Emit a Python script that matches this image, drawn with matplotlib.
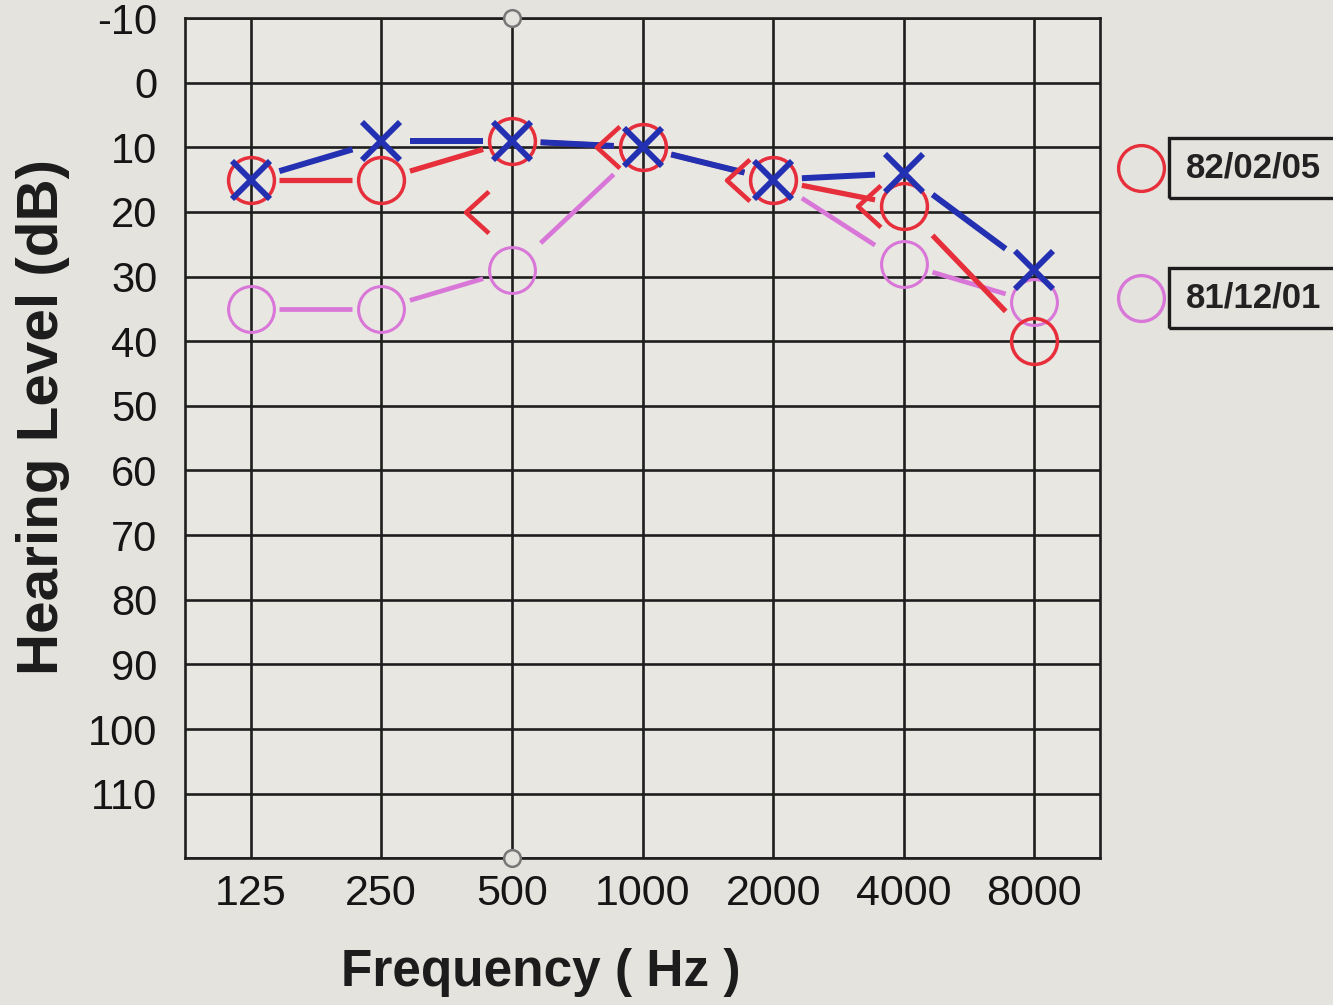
import matplotlib
matplotlib.use("Agg")
import matplotlib.pyplot as plt
import matplotlib.transforms as mtransforms
from matplotlib.path import Path
from matplotlib.patches import Rectangle
import numpy as np

# audiogram values (dB HL)
freqs = ["125", "250", "500", "1000", "2000", "4000", "8000"]
left_air = [15, 9, 9, 10, 15, 14, 29]        # blue X
right_new = [15, 15, 9, 10, 15, 19, 40]      # red O, 82/02/05
right_old = [35, 35, 29, 10, 15, 28, 34]     # pink O, 81/12/01
bone_idx = [2, 3, 4, 5]                      # red "<" marks
bone_vals = [20, 10, 15, 19]
legend_dates = ["82/02/05", "81/12/01"]

BLUE = "#2330b2"
RED = "#e62f3a"
PINK = "#d977d9"
GRID = "#1e1e1e"
BG = "#e5e3dd"

tick_font = ["Liberation Sans Narrow", "Liberation Sans", "DejaVu Sans"]
bold_font = ["Liberation Sans", "DejaVu Sans"]

fig = plt.figure(figsize=(13.33, 10.05), dpi=100, facecolor=BG)
ax = fig.add_axes([0.139, 0.146, 0.686, 0.836], facecolor="#e9e7e2")


def broken_line(y, color, lw, gap=0.22):
    # connect points with gaps near the markers, like the printed chart
    x = np.arange(len(y))
    y = np.asarray(y, float)
    for i in range(len(y) - 1):
        dx, dy = x[i + 1] - x[i], y[i + 1] - y[i]
        ax.plot([x[i] + gap * dx, x[i + 1] - gap * dx],
                [y[i] + gap * dy, y[i + 1] - gap * dy],
                color=color, lw=lw, solid_capstyle="butt", zorder=3)


x = np.arange(len(freqs))

# old test (pink)
broken_line(right_old, PINK, 3.4)
ax.plot(x, right_old, ls="none", marker="o", ms=33, mfc="none",
        mec=PINK, mew=2.2, zorder=4)

# new test (red)
broken_line(right_new, RED, 3.8)
ax.plot(x, right_new, ls="none", marker="o", ms=33, mfc="none",
        mec=RED, mew=2.5, zorder=5)

# bone conduction "<" marks, drawn a bit left of the frequency line
lt = Path([(0.55, 1), (-0.55, 0), (0.55, -1)],
          [Path.MOVETO, Path.LINETO, Path.LINETO])
shift = mtransforms.ScaledTranslation(-0.35, 0, fig.dpi_scale_trans)
ax.plot(bone_idx, bone_vals, ls="none", marker=lt, ms=30, mfc="none",
        mec=RED, mew=3.3, transform=ax.transData + shift, zorder=5)

# blue X
broken_line(left_air, BLUE, 4.3)
ax.plot(x, left_air, ls="none", marker="x", ms=27, mec=BLUE, mew=4.2, zorder=6)

ax.set_xlim(-0.5, 6.5)
ax.set_ylim(120, -10)
ax.set_xticks(x)
ax.set_xticklabels(freqs, family=tick_font, fontsize=31)
ax.set_yticks(np.arange(-10, 120, 10))
ax.set_yticklabels([str(v) for v in range(-10, 120, 10)],
                   family=tick_font, fontsize=30)
ax.set_yticks([120], minor=True)
ax.tick_params(axis="both", which="both", length=0, colors="#151515")
ax.tick_params(axis="x", pad=11)
ax.tick_params(axis="y", pad=20)
ax.grid(True, which="both", color=GRID, lw=1.9)
ax.set_axisbelow(True)
for s in ax.spines.values():
    s.set_color(GRID)
    s.set_linewidth(1.9)

# little grey handles at the 500 Hz line
ax.plot([2, 2], [-10, 120], ls="none", marker="o", ms=12, mfc=BG,
        mec="#777777", mew=1.8, clip_on=False, zorder=7)

ax.set_xlabel("Frequency ( Hz )", family=bold_font, fontsize=37,
              fontweight="bold", color="#1c1c1c", va="center")
ax.xaxis.set_label_coords(0.389, -0.136)
ax.set_ylabel("Hearing Level (dB)", family=bold_font, fontsize=42,
              fontweight="bold", color="#1c1c1c", va="center")
ax.yaxis.set_label_coords(-0.156, 0.525)

# legend on the right: circle + boxed date
leg_colors = [RED, PINK]
leg_y = [1 - 168 / 1005, 1 - 298 / 1005]
for date, col, yy in zip(legend_dates, leg_colors, leg_y):
    fig.add_artist(plt.Line2D([1141 / 1333], [yy], ls="none", marker="o",
                              ms=33, mfc="none", mec=col, mew=2.4))
    fig.add_artist(Rectangle((1169 / 1333, yy - 30 / 1005), 0.2, 60 / 1005,
                             transform=fig.transFigure, fill=False,
                             ec="#1c1c1c", lw=2.4))
    fig.text(1186 / 1333, yy, date, family=bold_font, fontsize=25,
             fontweight="bold", color="#222222", va="center", ha="left")

fig.savefig("out.png", dpi=100, facecolor=BG)
